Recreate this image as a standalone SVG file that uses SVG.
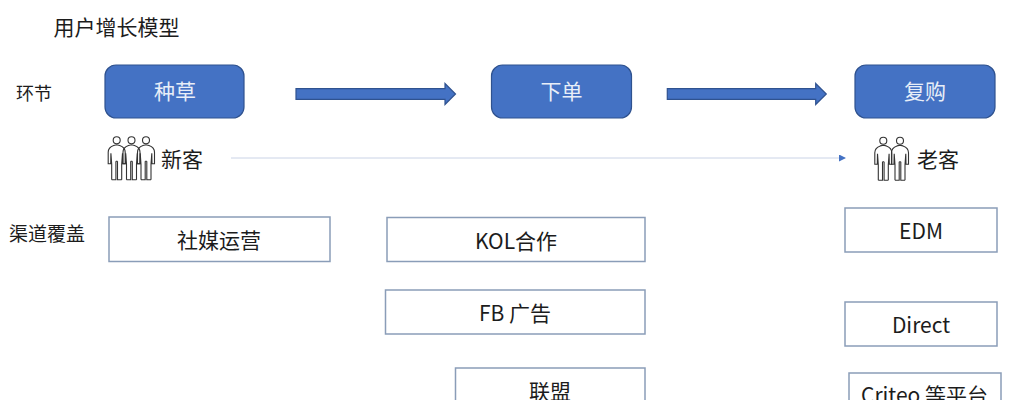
<svg xmlns="http://www.w3.org/2000/svg" xmlns:xlink="http://www.w3.org/1999/xlink" width="1029" height="400" viewBox="0 0 1029 400">
<style>
text{font-family:"Noto Sans CJK SC","Liberation Sans",sans-serif;fill:#1c1c1c;text-anchor:middle}
.pill{fill:#4472c4;stroke:#2f528f;stroke-width:1.2}
.pill-t{fill:#e8eef8;font-size:21px}
.box{fill:#fff;stroke:#8a9db8;stroke-width:1.500}
.lab{font-size:21px}
.block{fill:#4472c4;stroke:#2f528f;stroke-width:1.2}
.person{fill:none;stroke:#333;stroke-width:1.1}
</style>
<defs>
<marker id="tri" markerWidth="8" markerHeight="8" refX="6" refY="3.500" orient="auto" markerUnits="userSpaceOnUse"><path d="M0 0L7 3.500L0 7Z" fill="#4472c4"/></marker>
<g id="person" class="person">
<circle cx="0" cy="0" r="3.500"/>
<path d="M-5 39.500L-5 24L-5.800 13M5 39.500L5 24L5.800 13M-5 39.500H-.8V21M5 39.500H.8V21M-.8 21H.8M-5.800 13L-6 23.500H-8.500V12Q-8.500 7 -3 5.200L0 4.500L3 5.200Q8.500 7 8.500 12V23.500H6L5.800 13"/>
</g>
</defs>
<rect width="1029" height="400" fill="#fff"/>
<g id="connectors">
<path class="block" d="M296 88.700H445V83.500L455.500 94L445 104.500V99.300H296Z"/>
<path class="block" d="M667.300 88.700H815.700V83.500L826.300 94L815.700 104.500V99.300H667.300Z"/>
<path d="M231 158H845" fill="none" stroke="#bcc8e0" stroke-width=".8" marker-end="url(#tri)"/>
</g>
<text x="116.500" y="35" style="font-size:21px">用户增长模型</text>
<g id="label-stage"><text x="34" y="100" style="font-size:18px">环节</text></g>
<g id="label-channel"><text x="47" y="241" style="font-size:19px">渠道覆盖</text></g>
<g id="node-seed"><rect class="pill" x="105" y="65" width="139" height="53" rx="11"/><text x="175" y="99" class="pill-t">种草</text></g>
<g id="node-order"><rect class="pill" x="491.500" y="65" width="140" height="53" rx="11"/><text x="561.500" y="99" class="pill-t">下单</text></g>
<g id="node-repeat"><rect class="pill" x="855" y="65" width="140" height="53" rx="11"/><text x="925" y="99" class="pill-t">复购</text></g>
<g id="node-new">
<use xlink:href="#person" href="#person" x="116.700" y="140.300"/>
<use xlink:href="#person" href="#person" x="131.500" y="140.300"/>
<use xlink:href="#person" href="#person" x="146" y="140.300"/>
<text x="182" y="167" class="lab">新客</text>
</g>
<g id="node-old">
<use xlink:href="#person" href="#person" x="883.300" y="140.700"/>
<use xlink:href="#person" href="#person" x="900" y="140.700"/>
<text x="938" y="167" class="lab">老客</text>
</g>
<g id="node-social"><rect class="box" x="109" y="217" width="221" height="44.500"/><text x="219" y="248" class="lab">社媒运营</text></g>
<g id="node-kol"><rect class="box" x="387" y="217.500" width="258" height="44"/><text x="516" y="248.500" class="lab">KOL合作</text></g>
<g id="node-fb"><rect class="box" x="385.500" y="290" width="259.500" height="44"/><text x="515" y="320.500" class="lab">FB 广告</text></g>
<g id="node-affiliate"><rect class="box" x="455.500" y="368" width="189.500" height="50"/><text x="550" y="398.500" class="lab">联盟</text></g>
<g id="node-edm"><rect class="box" x="845" y="208" width="152" height="44"/><text x="921" y="238.500" class="lab">EDM</text></g>
<g id="node-direct"><rect class="box" x="845" y="302" width="152" height="44"/><text x="921" y="332.500" class="lab">Direct</text></g>
<g id="node-criteo"><rect class="box" x="849" y="373" width="152" height="50"/><text x="924.500" y="403" class="lab">Criteo 等平台</text></g>
</svg>
